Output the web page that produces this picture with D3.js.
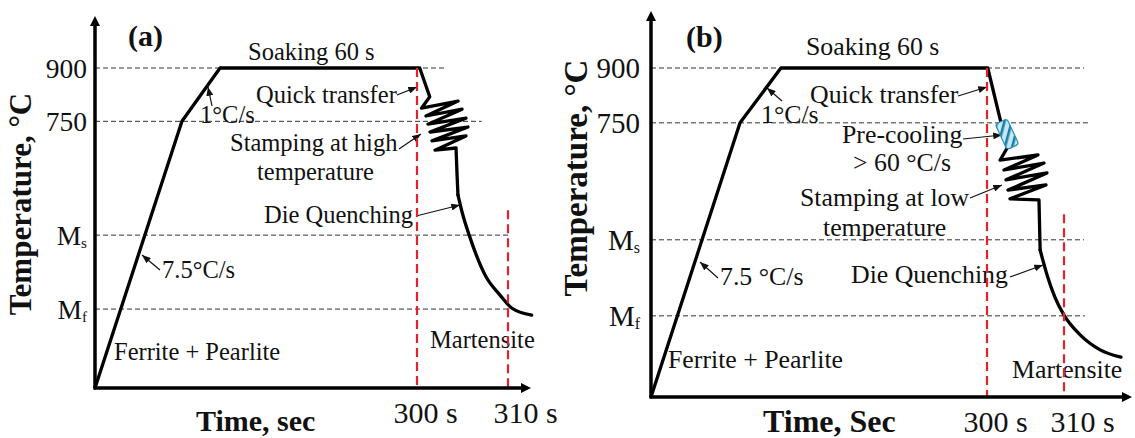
<!DOCTYPE html>
<html><head><meta charset="utf-8">
<script src="https://cdn.jsdelivr.net/npm/d3@7"></script>
<style>
html,body{margin:0;padding:0;background:#fff;}
svg{display:block;}
text{font-family:"Liberation Serif","Times New Roman",serif;fill:#111;}
</style></head><body>
<svg id="chart" width="1135" height="438"></svg>
<script>
// ---------------- data ----------------
const tempTickValues = [900, 750, 430, 222];          // 900, 750, Ms, Mf (schematic °C)
const tempTickLabels = ["900", "750", "Ms", "Mf"];
const timeTickValues = [300, 310];
const timeTickLabels = ["300 s", "310 s"];
const markerTimes = [300, 310];                        // red dashed markers
const markerTops = [900, 500];

// Panel (a): heating, soaking, quick transfer, stamping at high temperature
const aTime = [0, 81, 116.5, 300.3, 301.4, 300.5, 304.51, 300.99, 304.95, 301.21, 305.38, 301.43, 305.6, 301.65, 305.38, 301.98, 304.29, 304.4, 304.5];
const aTemp = [0, 750, 900, 900, 819, 787, 807, 765, 784, 742, 759, 720, 734, 695, 709, 669, 675, 600, 543];
const aQuenchTime = [304.5, 304.95, 305.8, 307.6, 309.1, 310.4, 312.6];
const aQuenchTemp = [543, 495, 425, 312, 262, 225, 205];
const aGuideEnds = [303.1, 307.1, 310.1, 310.1];

// Panel (b): heating, soaking, quick transfer, pre-cooling, stamping at low temperature
const bTime = [0, 79.5, 116, 300.1, 301.8, 302.7, 301.7, 306.62, 302.21, 307.4, 302.47, 307.79, 302.73, 307.66, 302.99, 306.75, 306.9];
const bTemp = [0, 750, 900, 900, 752, 684, 648, 662, 621, 640, 594, 613, 566, 580, 542, 539, 402];
const bQuenchTime = [306.9, 307.8, 308.8, 310.0, 312.1, 314.7, 317.4];
const bQuenchTemp = [402, 334, 274, 224, 170, 129, 109];
const bGuideEnds = [312.6, 313.1, 312.6, 312.7];
const bPrecool = [302.6, 719];

// ---------------- layout ----------------
const panels = [
  {
    time: aTime, temp: aTemp, qTime: aQuenchTime, qTemp: aQuenchTemp, guideEnds: aGuideEnds, precool: null,
    xRange: [95, 417, 508], yRange: [388, 68], yTop: 15, xEnd: 532,
    font: 24.5, tickFont: 27.5, tickPad: 8, xTickFont: 30, xTickY: 35, xTickDx: [-24, -15],
    letter: {t: "(a)", x: 128, y: 46},
    xLabel: {t: "Time, sec", x: 196, y: 431, size: 30},
    yLabel: {t: "Temperature, °C", x: 31, y: 204, size: 31},
    notes: [
      {t: "Soaking 60 s", x: 248, y: 60},
      {t: "Quick transfer", x: 256, y: 103, ar: [397, 95, 417, 87]},
      {t: "1°C/s", x: 200, y: 123, ar: [212, 106, 208, 87]},
      {t: "Stamping at high", x: 230, y: 151, ar: [399, 149, 421, 134]},
      {t: "temperature", x: 257, y: 180},
      {t: "Die Quenching", x: 264, y: 223, ar: [416, 216, 460, 205]},
      {t: "7.5°C/s", x: 162, y: 278, ar: [160, 270, 142, 255]},
      {t: "Ferrite + Pearlite", x: 114, y: 360},
      {t: "Martensite", x: 430, y: 348}
    ]
  },
  {
    time: bTime, temp: bTemp, qTime: bQuenchTime, qTemp: bQuenchTemp, guideEnds: bGuideEnds, precool: bPrecool,
    xRange: [651, 987, 1064], yRange: [397, 68], yTop: 10, xEnd: 1133,
    font: 25.8, tickFont: 29, tickPad: 11, xTickFont: 30, xTickY: 35, xTickDx: [-24, -14],
    letter: {t: "(b)", x: 686, y: 47},
    xLabel: {t: "Time, Sec", x: 763, y: 432, size: 32},
    yLabel: {t: "Temperature, °C", x: 587, y: 178, size: 33},
    notes: [
      {t: "Soaking 60 s", x: 806, y: 55},
      {t: "Quick transfer", x: 810, y: 103, ar: [958, 96, 987, 87]},
      {t: "1°C/s", x: 761, y: 123, ar: [782, 101, 767, 88]},
      {t: "Pre-cooling", x: 842, y: 143, ar: [963, 139, 1002, 135]},
      {t: "> 60 °C/s", x: 853, y: 171},
      {t: "Stamping at low", x: 800, y: 206, ar: [970, 198, 1002, 185]},
      {t: "temperature", x: 823, y: 236},
      {t: "Die Quenching", x: 851, y: 283, ar: [1010, 277, 1043, 265]},
      {t: "7.5 °C/s", x: 720, y: 285, ar: [718, 278, 700, 262]},
      {t: "Ferrite + Pearlite", x: 668, y: 368},
      {t: "Martensite", x: 1012, y: 378}
    ]
  }
];

const svg = d3.select("#chart");
const defs = svg.append("defs");
defs.append("marker").attr("id", "tip").attr("viewBox", "0 0 10 8").attr("refX", 10).attr("refY", 4)
  .attr("markerWidth", 9).attr("markerHeight", 7).attr("markerUnits", "userSpaceOnUse").attr("orient", "auto")
  .append("path").attr("d", "M0,0L10,4L0,8z").attr("fill", "#111");
defs.append("marker").attr("id", "axisTip").attr("viewBox", "0 0 10 10").attr("refX", 2).attr("refY", 5)
  .attr("markerWidth", 11).attr("markerHeight", 10).attr("markerUnits", "userSpaceOnUse").attr("orient", "auto")
  .append("path").attr("d", "M0,0L10,5L0,10z").attr("fill", "#000");
const pat = defs.append("pattern").attr("id", "stripes").attr("patternUnits", "userSpaceOnUse")
  .attr("width", 7).attr("height", 7).attr("patternTransform", "rotate(40)");
pat.append("rect").attr("width", 7).attr("height", 7).attr("fill", "#c4e8f4");
pat.append("rect").attr("width", 2.6).attr("height", 7).attr("fill", "#1c7ea8");

function drawPanel(p) {
  const x = d3.scaleLinear().domain([0, 300, 310]).range(p.xRange);
  const y = d3.scaleLinear().domain([0, 900]).range(p.yRange);
  const g = svg.append("g");

  // horizontal guides
  g.selectAll(".guide").data(tempTickValues).join("line").attr("class", "guide")
    .attr("x1", x(0)).attr("x2", (d, i) => x(p.guideEnds[i]))
    .attr("y1", d => y(d)).attr("y2", d => y(d))
    .attr("stroke", "#333").attr("stroke-width", 1).attr("stroke-dasharray", "5,3");

  // annotations text
  g.selectAll(".note").data(p.notes).join("text").attr("class", "note")
    .attr("x", d => d.x).attr("y", d => d.y).attr("font-size", p.font).text(d => d.t);
  g.selectAll(".noteArrow").data(p.notes.filter(d => d.ar)).join("line").attr("class", "noteArrow")
    .attr("x1", d => d.ar[0]).attr("y1", d => d.ar[1]).attr("x2", d => d.ar[2]).attr("y2", d => d.ar[3])
    .attr("stroke", "#111").attr("stroke-width", 1.2).attr("marker-end", "url(#tip)");

  // main curve
  const line = d3.line().x(d => x(d[0])).y(d => y(d[1]));
  g.append("path").datum(d3.zip(p.time, p.temp)).attr("d", line)
    .attr("fill", "none").attr("stroke", "#000").attr("stroke-width", 3.3)
    .attr("stroke-linejoin", "round").attr("stroke-linecap", "round");
  const qline = d3.line().curve(d3.curveMonotoneX).x(d => x(d[0])).y(d => y(d[1]));
  g.append("path").datum(d3.zip(p.qTime, p.qTemp)).attr("d", qline)
    .attr("fill", "none").attr("stroke", "#000").attr("stroke-width", 3.3).attr("stroke-linecap", "round");

  // pre-cooling block
  if (p.precool) {
    g.append("rect").attr("x", -6.5).attr("y", -14).attr("width", 13).attr("height", 28).attr("rx", 3)
      .attr("transform", `translate(${x(p.precool[0])},${y(p.precool[1])}) rotate(-25)`)
      .attr("fill", "url(#stripes)").attr("stroke", "#2a8fb8").attr("stroke-width", 1.2);
  }

  // red dashed markers
  g.selectAll(".marker").data(markerTimes).join("line").attr("class", "marker")
    .attr("x1", d => x(d)).attr("x2", d => x(d))
    .attr("y1", (d, i) => y(markerTops[i])).attr("y2", y(0))
    .attr("stroke", "#e3222b").attr("stroke-width", 2.2).attr("stroke-dasharray", "9,5");

  // axes
  g.append("line").attr("x1", x(0)).attr("y1", y(0)).attr("x2", x(0)).attr("y2", p.yTop + 9)
    .attr("stroke", "#000").attr("stroke-width", 3.5).attr("marker-end", "url(#axisTip)");
  g.append("line").attr("x1", x(0) - 1.5).attr("y1", y(0)).attr("x2", p.xEnd - 9).attr("y2", y(0))
    .attr("stroke", "#000").attr("stroke-width", 3.5).attr("marker-end", "url(#axisTip)");

  // y tick labels
  const gy = g.append("g").attr("transform", `translate(${x(0)},0)`)
    .call(d3.axisLeft(y).tickValues(tempTickValues).tickSize(0).tickPadding(p.tickPad));
  gy.attr("font-size", null).attr("font-family", null);
  gy.select(".domain").remove();
  gy.selectAll("text").attr("font-size", p.tickFont).attr("fill", "#111").attr("dy", "0.34em")
    .each(function (d, i) {
      const lab = tempTickLabels[i];
      const t = d3.select(this);
      t.text(null);
      if (lab[0] === "M") {
        t.append("tspan").text("M");
        t.append("tspan").attr("font-size", p.tickFont * 0.55).attr("dy", "0.2em").text(lab.slice(1));
      } else t.text(lab);
    });

  // x tick labels
  const gx = g.append("g").attr("transform", `translate(0,${y(0)})`)
    .call(d3.axisBottom(x).tickValues(timeTickValues).tickSize(0).tickFormat((d, i) => timeTickLabels[i]));
  gx.attr("font-size", null).attr("font-family", null);
  gx.select(".domain").remove();
  gx.selectAll("text").attr("font-size", p.xTickFont).attr("fill", "#111").attr("text-anchor", "start")
    .attr("y", p.xTickY).attr("dy", 0).attr("dx", (d, i) => p.xTickDx[i]);

  // panel letter and axis titles
  g.append("text").attr("x", p.letter.x).attr("y", p.letter.y).attr("font-size", 30)
    .attr("font-weight", "bold").text(p.letter.t);
  g.append("text").attr("x", p.xLabel.x).attr("y", p.xLabel.y).attr("font-size", p.xLabel.size)
    .attr("font-weight", "bold").text(p.xLabel.t);
  g.append("text").attr("transform", `translate(${p.yLabel.x},${p.yLabel.y}) rotate(-90)`)
    .attr("text-anchor", "middle").attr("font-size", p.yLabel.size).attr("font-weight", "bold").text(p.yLabel.t);
}

panels.forEach(drawPanel);
</script>
</body></html>
